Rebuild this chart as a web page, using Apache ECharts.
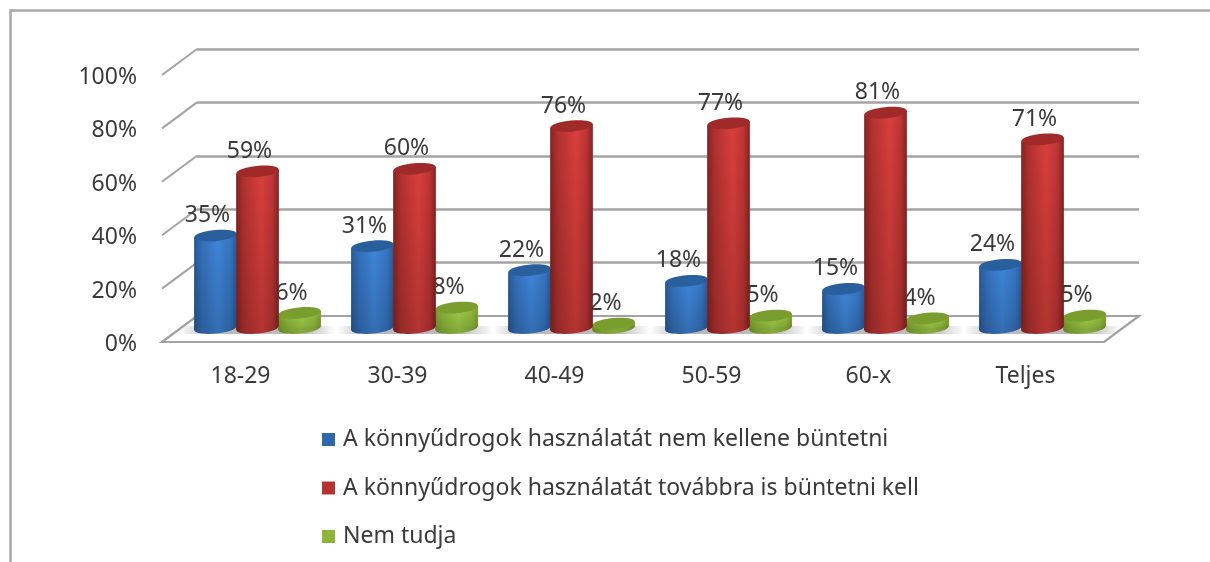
<!DOCTYPE html>
<html>
<head>
<meta charset="utf-8">
<style>html,body{margin:0;padding:0;background:#fff}#c{width:1210px;height:562px;filter:blur(0.55px)}</style>
<script src="https://cdn.jsdelivr.net/npm/echarts@6/dist/echarts.min.js"></script>
</head>
<body>
<div id="c"></div>
<script>
const categories = ['18-29', '30-39', '40-49', '50-59', '60-x', 'Teljes'];
const nemKellene = [35, 31, 22, 18, 15, 24];
const tovabbra = [59, 60, 76, 77, 81, 71];
const nemTudja = [6, 8, 2, 5, 4, 5];
const seriesNames = [
  'A könnyűdrogok használatát nem kellene büntetni',
  'A könnyűdrogok használatát továbbra is büntetni kell',
  'Nem tudja'
];
const yTicks = [0, 20, 40, 60, 80, 100];

const FONT = '"Noto Sans", sans-serif';
const TXT = '#3a3a3a';
const GRID = '#a3a3a3';
const DX = 35, DY = -26;             // depth of the 3D box
const MX = 17, MY = -13;             // bars stand at mid depth

function hgrad(stops) {
  return { type: 'linear', x: 0, y: 0, x2: 1, y2: 0,
    colorStops: stops.map(s => ({ offset: s[0], color: s[1] })) };
}
const looks = [
  { legend: '#2f67ad', top: '#2a5f9e', body: hgrad([[0, '#2a5a98'], [0.18, '#3470ba'], [0.55, '#3f86da'], [0.85, '#3675c2'], [1, '#2a5a98']]) },
  { legend: '#b83230', top: '#a02a2a', body: hgrad([[0, '#862323'], [0.18, '#b23230'], [0.6, '#da3f3c'], [0.85, '#bd3534'], [1, '#862323']]) },
  { legend: '#8db53a', top: '#7a9e2e', body: hgrad([[0, '#7ba02d'], [0.2, '#8fb93a'], [0.55, '#a2cf48'], [0.85, '#93bd3c'], [1, '#7ba02d']]) }
];
const DARK = 'rgba(0,0,0,0.17)';

function cylinder(idx) {
  return function (params, api) {
    const cat = api.value(0), val = api.value(1);
    const base = api.coord([cat, 0]);
    const top = api.coord([cat, val]);
    const step = api.size([1, 0])[0];
    const w = step * 0.272;
    const rx = w / 2, ry = 5.6, tilt = 2;
    const cx = base[0] + MX + (idx - 1) * w * 0.985;
    const y0 = base[1] + MY - 1, y1 = top[1] + MY;
    const look = looks[idx];
    const ell = (cy, fill) => ({
      type: 'ellipse', shape: { cx: cx, cy: cy, rx: rx, ry: ry },
      rotation: Math.atan2(tilt * 2, w), originX: cx, originY: cy, style: { fill: fill }
    });
    const pts = [[cx - rx, y1 + tilt], [cx + rx, y1 - tilt], [cx + rx, y0 - tilt], [cx - rx, y0 + tilt]];
    const side = { type: 'polygon', shape: { points: pts }, style: { fill: look.body } };
    const shade = {
      type: 'polygon', shape: { points: pts },
      style: { fill: { type: 'linear', x: 0, y: 0, x2: 0, y2: 1,
        colorStops: [{ offset: 0, color: 'rgba(0,0,0,0)' }, { offset: 1, color: DARK }] } }
    };
    return {
      type: 'group',
      children: [
        ell(y0, look.body), ell(y0, DARK), side, shade, ell(y1, look.top),
        { type: 'text', style: { text: val + '%', x: cx - 8, y: y1 - 20, textAlign: 'center',
          textVerticalAlign: 'middle', fill: TXT, font: '23px ' + FONT } }
      ]
    };
  };
}

function toData(arr) { return arr.map((v, i) => [i, v]); }

const option = {
  animation: false,
  backgroundColor: '#fff',
  textStyle: { fontFamily: FONT },
  graphic: [{
    type: 'polyline', silent: true,
    shape: { points: [[10.5, 562], [10.5, 10.5], [1210, 10.5]] },
    style: { stroke: '#a8a8a8', lineWidth: 2.5, fill: 'none' }
  }],
  legend: {
    show: true, orient: 'vertical', left: 317, top: 423,
    itemWidth: 13, itemHeight: 13, itemGap: 25.5,
    data: seriesNames.map(n => ({ name: n, icon: 'rect' })),
    textStyle: { fontSize: 23, color: TXT, fontFamily: FONT, padding: [0, 0, 0, 3] }
  },
  grid: [
    { left: 162, right: 106, top: 75, bottom: 220 },
    { left: 162 + DX, right: 106 - DX, top: 75 + DY, bottom: 220 - DY }
  ],
  xAxis: [
    { type: 'category', gridIndex: 0, data: categories,
      axisLine: { show: false }, axisTick: { show: false },
      axisLabel: { color: TXT, fontSize: 23, margin: 23, fontFamily: FONT } },
    { type: 'category', gridIndex: 1, data: categories, show: false }
  ],
  yAxis: [
    { type: 'value', gridIndex: 0, min: 0, max: 100, interval: 20,
      axisLine: { show: false }, axisTick: { show: false }, splitLine: { show: false },
      axisLabel: { color: TXT, fontSize: 23, margin: 25, formatter: '{value}%', fontFamily: FONT,
        verticalAlign: 'top', lineHeight: 5 } },
    { type: 'value', gridIndex: 1, min: 0, max: 100, interval: 20,
      axisLine: { show: false }, axisTick: { show: false }, axisLabel: { show: false },
      splitLine: { show: true, lineStyle: { color: GRID, width: 2.5 } } }
  ],
  series: [
    { // left-hand side wall: slanted lines from each tick back to the wall
      type: 'custom', name: 'sideWall', xAxisIndex: 0, yAxisIndex: 0, z: 1, silent: true,
      data: yTicks.map(t => [0, t]), encode: { x: 0, y: 1 },
      renderItem: function (params, api) {
        const p = api.coord([0, api.value(1)]);
        const x = params.coordSys.x;
        return { type: 'line', shape: { x1: x, y1: p[1], x2: x + DX, y2: p[1] + DY },
          style: { stroke: GRID, lineWidth: 2 } };
      }
    },
    { // floor
      type: 'custom', name: 'floor', xAxisIndex: 0, yAxisIndex: 0, z: 2, silent: true,
      data: [[0, 0]], encode: { x: 0, y: 1 },
      renderItem: function (params, api) {
        const y = api.coord([0, 0])[1];
        const c = params.coordSys;
        return { type: 'polygon',
          shape: { points: [[c.x, y], [c.x + DX, y + DY], [c.x + c.width + DX, y + DY], [c.x + c.width, y]] },
          style: { fill: '#fff', stroke: GRID, lineWidth: 2.2 } };
      }
    },
    { // soft shadow under each group of cylinders
      type: 'custom', name: 'shadow', xAxisIndex: 0, yAxisIndex: 0, z: 2, silent: true,
      data: categories.map((c, i) => [i, 0]), encode: { x: 0, y: 1 },
      renderItem: function (params, api) {
        const b = api.coord([api.value(0), 0]);
        const s = api.size([1, 0])[0];
        return { type: 'rect',
          shape: { x: b[0] + MX - s * 0.5, y: b[1] - 16, width: s, height: 8 },
          style: { fill: { type: 'linear', x: 0, y: 0, x2: 1, y2: 0, colorStops: [
            { offset: 0, color: 'rgba(170,170,170,0)' }, { offset: 0.2, color: 'rgba(170,170,170,0.8)' },
            { offset: 0.8, color: 'rgba(170,170,170,0.8)' }, { offset: 1, color: 'rgba(170,170,170,0)' }] } } };
      }
    },
    { type: 'custom', name: seriesNames[0], xAxisIndex: 0, yAxisIndex: 0, z: 3,
      itemStyle: { color: looks[0].legend }, data: toData(nemKellene), encode: { x: 0, y: 1 }, renderItem: cylinder(0) },
    { type: 'custom', name: seriesNames[2], xAxisIndex: 0, yAxisIndex: 0, z: 3,
      itemStyle: { color: looks[2].legend }, data: toData(nemTudja), encode: { x: 0, y: 1 }, renderItem: cylinder(2) },
    { type: 'custom', name: seriesNames[1], xAxisIndex: 0, yAxisIndex: 0, z: 4,
      itemStyle: { color: looks[1].legend }, data: toData(tovabbra), encode: { x: 0, y: 1 }, renderItem: cylinder(1) }
  ]
};
const chart = echarts.init(document.getElementById('c'));
chart.setOption(option);
</script>
</body>
</html>
